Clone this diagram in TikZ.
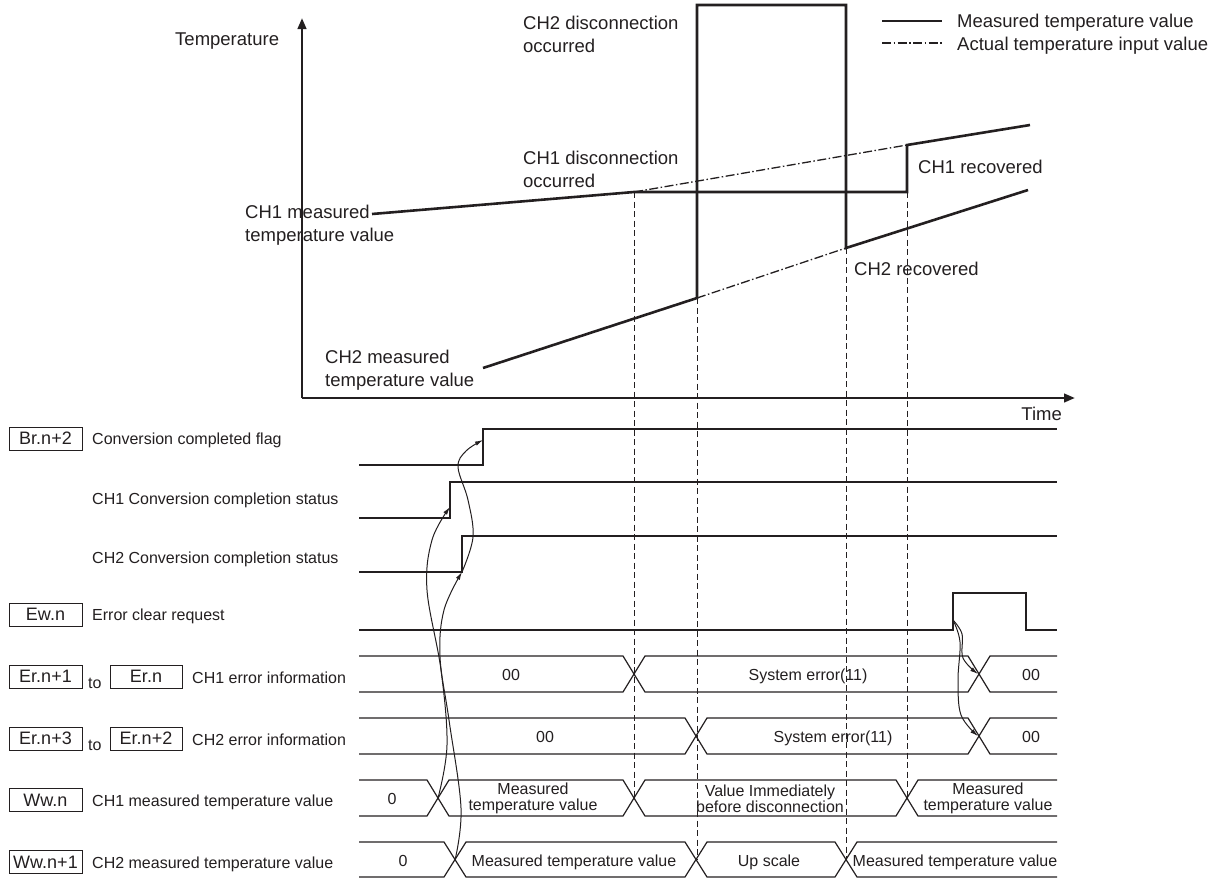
\documentclass[tikz,border=0pt]{standalone}
\usepackage{fontspec}
\setmainfont{Liberation Sans}
\usetikzlibrary{arrows.meta}
\definecolor{ink}{RGB}{35,31,32}
\begin{document}
\begin{tikzpicture}[x=1pt,y=-1pt,
  every node/.style={text=ink, inner sep=0pt},
  big/.style={font=\fontsize{18.5}{23}\selectfont},
  small/.style={font=\fontsize{16}{16}\selectfont},
  heavy/.style={draw=ink, line width=2.6pt},
  axisline/.style={draw=ink, line width=2.6pt, -{Triangle[length=11pt,width=8.5pt]}},
  sig/.style={draw=ink, line width=1.2pt},
  vdash/.style={draw=ink, line width=1pt, dash pattern=on 6pt off 3.5pt},
  dashdot/.style={draw=ink, line width=1.3pt, dash pattern=on 9pt off 2.5pt on 1.5pt off 2.5pt},
  regbox/.style={draw=ink, line width=1pt, minimum width=73pt, minimum height=23pt,
    font=\fontsize{18}{18}\selectfont, text height=12.9pt, text depth=0pt},
  flow/.style={draw=ink, line width=1pt, -{Latex[length=8pt,width=4.5pt]}},
]
\useasboundingbox (0,0) rectangle (1223,879);

% ---------- axes ----------
\coordinate (origin) at (302,398);
\coordinate (ytip) at (302,18);
\coordinate (xtip) at (1075,398);
\draw[axisline] (origin) -- (ytip);
\draw[axisline] (origin) -- (xtip);
\node[big, anchor=base west] (ylab) at (175,45) {Temperature};
\node[big, anchor=base east] (xlab) at (1062,420) {Time};

% ---------- legend ----------
\coordinate (lg1a) at (882,21); \coordinate (lg1b) at (942,21);
\coordinate (lg2a) at (882,43); \coordinate (lg2b) at (942,43);
\draw[heavy, line width=2.2pt] (lg1a) -- (lg1b);
\draw[dashdot] (lg2a) -- (lg2b);
\node[big, anchor=base west] (lgt1) at (957,27) {Measured temperature value};
\node[big, anchor=base west] (lgt2) at (957,50) {Actual temperature input value};

% ---------- temperature curves ----------
\coordinate (c1a) at (372,214);
\coordinate (c1b) at (634,192);
\coordinate (c1c) at (907,192);
\coordinate (c1d) at (907,145);
\coordinate (c1e) at (1030,125);
\coordinate (c2a) at (483,368);
\coordinate (c2b) at (697,298);
\coordinate (c2c) at (697,5);
\coordinate (c2d) at (846,5);
\coordinate (c2e) at (846,248);
\coordinate (c2f) at (1028,190);

% dashed time markers
\coordinate (m1) at (634,798);
\coordinate (m2) at (697,860);
\coordinate (m3) at (846,860);
\coordinate (m4) at (907,798);
\draw[vdash] (c1b) -- (m1);
\draw[vdash] (c2b) -- (m2);
\draw[vdash] (c2e) -- (m3);
\draw[vdash] (c1c) -- (m4);

\draw[dashdot] (c1b) -- (c1d);
\draw[dashdot] (c2b) -- (c2e);
\draw[heavy] (c1a) -- (c1b) -- (c1c) -- (c1d) -- (c1e);
\draw[heavy] (c2a) -- (c2b) -- (c2c) -- (c2d) -- (c2e) -- (c2f);

% (base anchor of a two-line node = baseline of its last line)
\node[big, anchor=base west, align=left] (t2dis) at (523,52) {CH2 disconnection\\occurred};
\node[big, anchor=base west, align=left] (t1dis) at (523,187) {CH1 disconnection\\occurred};
\node[big, anchor=base west, align=left] (t1mv) at (245,241) {CH1 measured\\temperature value};
\node[big, anchor=base west, align=left] (t2mv) at (325,386) {CH2 measured\\temperature value};
\node[big, anchor=base west] (t1rec) at (918,173) {CH1 recovered};
\node[big, anchor=base west] (t2rec) at (854,275) {CH2 recovered};

% ---------- signal labels ----------
\node[regbox] (bBr) at (45.5,438.5) {Br.n+2};
\node[small, anchor=base west] (lBr) at (92,444) {Conversion completed flag};
\node[small, anchor=base west] (lC1) at (92,504) {CH1 Conversion completion status};
\node[small, anchor=base west] (lC2) at (92,563) {CH2 Conversion completion status};
\node[regbox] (bEw) at (45.5,614.5) {Ew.n};
\node[small, anchor=base west] (lEw) at (92,620) {Error clear request};
\node[regbox] (bEr1) at (45.5,676.5) {Er.n+1};
\node[small, anchor=base west] (to1) at (88,688) {to};
\node[regbox, minimum width=72pt] (bEr0) at (146,676.5) {Er.n};
\node[small, anchor=base west] (lEr1) at (192,683) {CH1 error information};
\node[regbox] (bEr3) at (45.5,738.5) {Er.n+3};
\node[small, anchor=base west] (to2) at (88,750) {to};
\node[regbox, minimum width=72pt] (bEr2) at (146,738.5) {Er.n+2};
\node[small, anchor=base west] (lEr2) at (192,745) {CH2 error information};
\node[regbox] (bWw0) at (45.5,800) {Ww.n};
\node[small, anchor=base west] (lWw0) at (92,806) {CH1 measured temperature value};
\node[regbox] (bWw1) at (45.5,862) {Ww.n+1};
\node[small, anchor=base west] (lWw1) at (92,868) {CH2 measured temperature value};

% ---------- bit signals ----------
\coordinate (brEdgeLo) at (483,465); \coordinate (brEdgeHi) at (483,429);
\coordinate (c1EdgeLo) at (450,518); \coordinate (c1EdgeHi) at (450,482);
\coordinate (c2EdgeLo) at (462,572); \coordinate (c2EdgeHi) at (462,536);
\coordinate (ewUp) at (953,630); \coordinate (ewHi) at (953,593);
\draw[sig] (359,465) -- (brEdgeLo) -- (brEdgeHi) -- (1057,429);
\draw[sig] (359,518) -- (c1EdgeLo) -- (c1EdgeHi) -- (1057,482);
\draw[sig] (359,572) -- (c2EdgeLo) -- (c2EdgeHi) -- (1057,536);
\draw[sig] (359,630) -- (ewUp) -- (ewHi) -- (1026,593) -- (1026,630) -- (1057,630);

% ---------- buses ----------
% CH1 error information
\draw[sig] (359,656) -- (623,656) -- (645,692) -- (968,692) -- (990,656) -- (1057,656);
\draw[sig] (359,692) -- (623,692) -- (645,656) -- (968,656) -- (990,692) -- (1057,692);
% CH2 error information
\draw[sig] (359,718) -- (685,718) -- (707,754) -- (968,754) -- (990,718) -- (1057,718);
\draw[sig] (359,754) -- (685,754) -- (707,718) -- (968,718) -- (990,754) -- (1057,754);
% CH1 measured temperature value
\draw[sig] (359,780) -- (427,780) -- (449,816) -- (623,816) -- (645,780) -- (896,780) -- (918,816) -- (1057,816);
\draw[sig] (359,816) -- (427,816) -- (449,780) -- (623,780) -- (645,816) -- (896,816) -- (918,780) -- (1057,780);
% CH2 measured temperature value
\draw[sig] (359,842) -- (444,842) -- (466,877) -- (685,877) -- (707,842) -- (835,842) -- (857,877) -- (1057,877);
\draw[sig] (359,877) -- (444,877) -- (466,842) -- (685,842) -- (707,877) -- (835,877) -- (857,842) -- (1057,842);

\coordinate (xWw0) at (438,798);
\coordinate (xWw1) at (455,860);
\coordinate (xEr1) at (978,674);
\coordinate (xEr2) at (978,736);

% bus texts
\node[small, anchor=base] (v11) at (511,680) {00};
\node[small, anchor=base] (v12) at (808,680) {System error(11)};
\node[small, anchor=base] (v13) at (1031,680) {00};
\node[small, anchor=base] (v21) at (545,742) {00};
\node[small, anchor=base] (v22) at (833,742) {System error(11)};
\node[small, anchor=base] (v23) at (1031,742) {00};
\node[small, anchor=base] (v31) at (392,804) {0};
\node[small, anchor=base, align=center] (v32) at (533,810) {Measured\\temperature value};
\node[small, anchor=base, align=center] (v33) at (770,812) {Value Immediately\\before disconnection};
\node[small, anchor=base, align=center] (v34) at (988,810) {Measured\\temperature value};
\node[small, anchor=base] (v41) at (403,866) {0};
\node[small, anchor=base] (v42) at (574,866) {Measured temperature value};
\node[small, anchor=base] (v43) at (769,866) {Up scale};
\node[small, anchor=base] (v44) at (955,866) {Measured temperature value};

% ---------- cause/effect arrows ----------
\coordinate (c1Hit) at (450,507);
\coordinate (brHit) at (483,440);
\coordinate (ewStart) at (953,620);
\draw[flow] plot[smooth, tension=0.6] coordinates {(xWw0) (447,745) (441,670) (427,590) (432,540) (c1Hit)};
\draw[flow] plot[smooth, tension=0.6] coordinates {(xWw1) (461,808) (449,720) (440,657) (444,610) (c2EdgeLo)};
\draw[flow] plot[smooth, tension=0.6] coordinates {(c2EdgeLo) (473,537) (468,500) (458,467) (466,451) (brHit)};
\draw[flow] plot[smooth, tension=0.6] coordinates {(ewStart) (962,634) (963,658) (xEr1)};
\draw[flow] plot[smooth, tension=0.6] coordinates {(ewStart) (960,642) (958,680) (961,715) (xEr2)};
\end{tikzpicture}
\end{document}
